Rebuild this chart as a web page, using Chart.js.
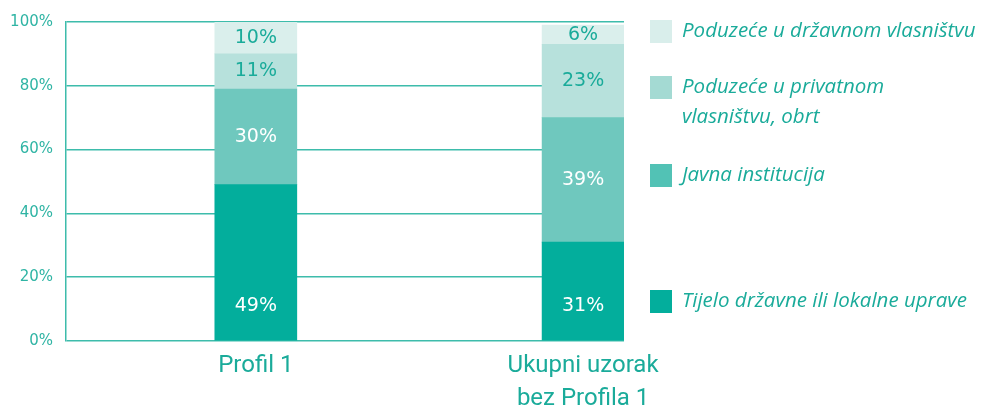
<!DOCTYPE html>
<html>
<head>
<meta charset="utf-8">
<script src="https://cdn.jsdelivr.net/npm/chart.js@4"></script>
<style>
  html, body { margin: 0; padding: 0; background: #fff; }
  #wrap { width: 982px; height: 409px; }
</style>
</head>
<body>
<div id="wrap"><canvas id="chart"></canvas></div>
<script>
// categories (multi-line labels as arrays)
const categories = [['Profil 1'], ['Ukupni uzorak', 'bez Profila 1']];
const seriesNames = [
  'Tijelo državne ili lokalne uprave',
  'Javna institucija',
  'Poduzeće u privatnom vlasništvu, obrt',
  'Poduzeće u državnom vlasništvu'
];
const legendLines = [
  ['Tijelo državne ili lokalne uprave'],
  ['Javna institucija'],
  ['Poduzeće u privatnom', 'vlasništvu, obrt'],
  ['Poduzeće u državnom vlasništvu']
];
const tijelo = [49, 31];
const javna = [30, 39];
const privatno = [11, 23];
const drzavno = [10, 6];
const yTicks = [0, 20, 40, 60, 80, 100];

const teal = '#1aab9a';
const barColors = ['#03ae9c', '#6fc8be', '#b7e1dc', '#daefec'];
const legendColors = ['#03ae9c', '#52c2b5', '#a4dad3', '#d9eeeb'];
const labelColors = ['#ffffff', '#ffffff', teal, teal];
const legendY = [301, 175, 87, 31];

const series = [tijelo, javna, privatno, drzavno];

const barLabels = {
  id: 'barLabels',
  afterDatasetsDraw(chart) {
    const ctx = chart.ctx;
    ctx.save();
    ctx.font = '19px "DejaVu Sans"';
    ctx.textAlign = 'center';
    ctx.textBaseline = 'middle';
    chart.data.datasets.forEach((ds, di) => {
      chart.getDatasetMeta(di).data.forEach((bar, i) => {
        const y = di === 0 ? bar.base - 34 : (bar.y + bar.base) / 2;
        ctx.fillStyle = labelColors[di];
        ctx.fillText(series[di][i] + '%', bar.x, y);
      });
    });
    ctx.restore();
  }
};

const sideLegend = {
  id: 'sideLegend',
  afterDraw(chart) {
    const ctx = chart.ctx;
    ctx.save();
    ctx.font = 'italic 20.5px "Open Sans"';
    ctx.textBaseline = 'middle';
    ctx.textAlign = 'left';
    seriesNames.forEach((name, i) => {
      const y = legendY[i];
      ctx.fillStyle = legendColors[i];
      ctx.fillRect(650, y - 11, 22, 23);
      ctx.fillStyle = teal;
      legendLines[i].forEach((line, k) => {
        ctx.fillText(line, 682, y + k * 30);
      });
    });
    ctx.restore();
  }
};

const ctx = document.getElementById('chart').getContext('2d');
new Chart(ctx, {
  type: 'bar',
  data: {
    datasets: series.map((vals, i) => ({
      label: seriesNames[i],
      data: vals.map((v, k) => ({ x: k, y: v })),
      backgroundColor: barColors[i],
      borderWidth: 0,
      barThickness: 82,
      grouped: false
    }))
  },
  options: {
    responsive: true,
    maintainAspectRatio: false,
    animation: false,
    layout: { padding: { top: 17, right: 358, left: 0, bottom: 0 } },
    plugins: {
      legend: { display: false },
      tooltip: { enabled: false }
    },
    scales: {
      x: {
        type: 'linear',
        offset: false,
        min: -0.58,
        max: 1.125,
        grid: { display: false, drawTicks: false },
        border: { display: false },
        afterBuildTicks: s => { s.ticks = categories.map((c, i) => ({ value: i })); },
        afterFit: s => { s.height = 68; },
        ticks: {
          autoSkip: false,
          maxRotation: 0,
          padding: 8,
          color: teal,
          font: { family: 'Roboto', size: 24, lineHeight: 1.38 },
          callback: v => categories[v]
        }
      },
      y: {
        stacked: true,
        min: 0,
        max: 100,
        afterBuildTicks: s => { s.ticks = yTicks.map(v => ({ value: v })); },
        afterFit: s => { s.width = 66; },
        grid: { color: '#3dbcab', lineWidth: 1.5, drawTicks: false },
        border: { display: true, color: '#3dbcab', width: 1.5 },
        ticks: {
          padding: 13,
          color: '#2fb4a4',
          font: { family: 'DejaVu Sans', size: 15 },
          callback: v => v + '%'
        }
      }
    }
  },
  plugins: [barLabels, sideLegend]
});
</script>
</body>
</html>
